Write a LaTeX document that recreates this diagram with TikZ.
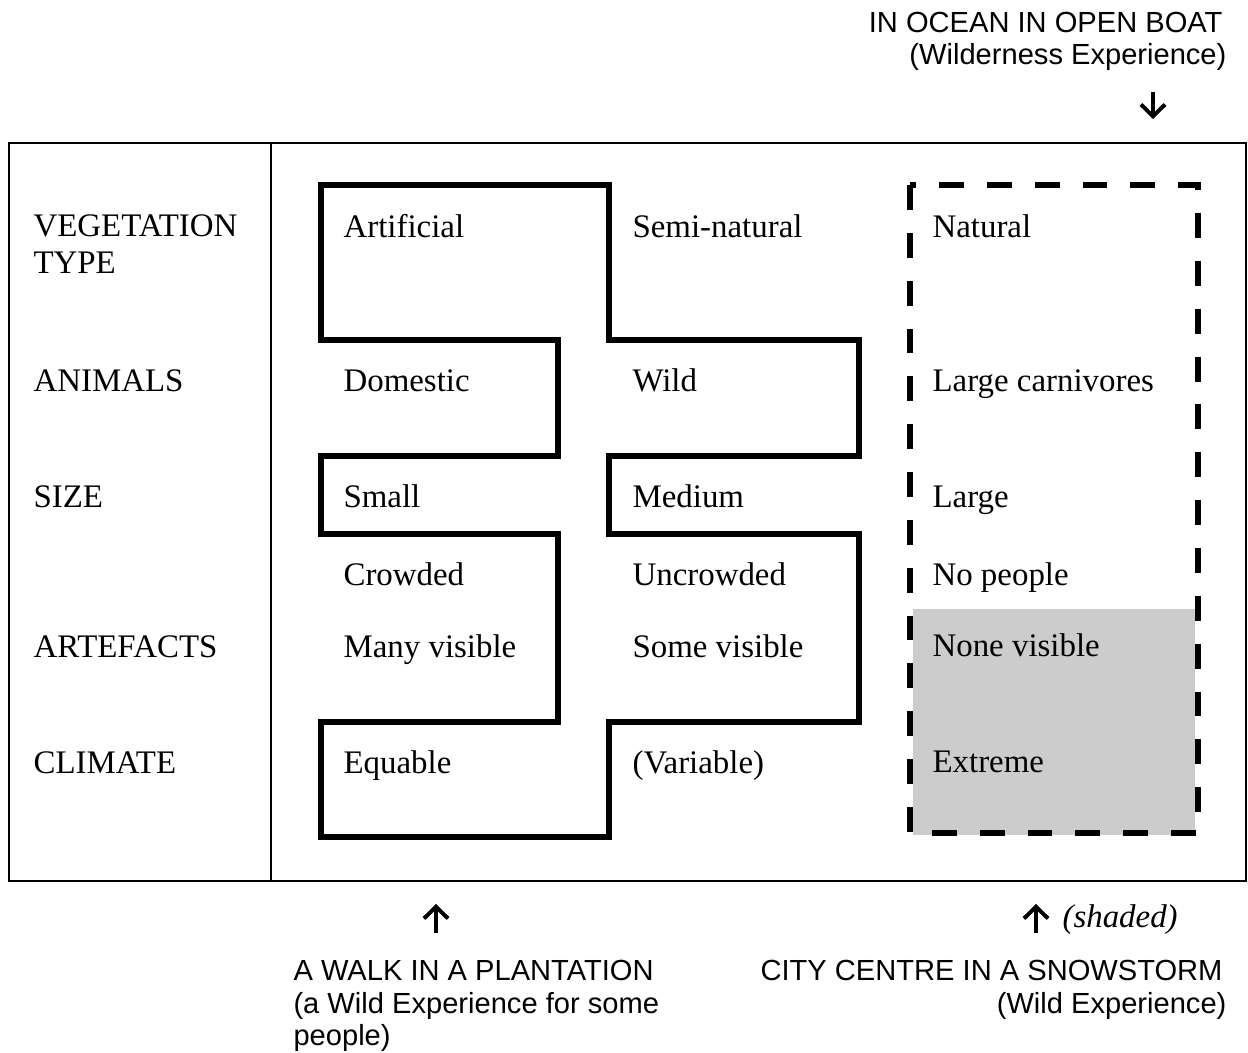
\documentclass[tikz,border=0pt]{standalone}
\usepackage{fontspec}
\setmainfont{Liberation Serif}
\newfontfamily\arialfont{Liberation Sans}
\usetikzlibrary{arrows.meta}
\begin{document}
\begin{tikzpicture}[x=0.3574pt,y=-0.3574pt,
  lab/.style={anchor=base west,inner sep=0pt,font=\fontsize{11.76}{14}\selectfont},
  notew/.style={anchor=base west,inner sep=0pt,font=\arialfont\fontsize{10.4}{11.1}\selectfont},
  notee/.style={anchor=base east,inner sep=0pt,font=\arialfont\fontsize{10.4}{11.1}\selectfont},
  frameline/.style={line width=0.75pt},
  outline/.style={line width=2.1pt,line join=miter},
  dashbox/.style={line width=2.3pt,dash pattern=on 8.9pt off 8.2pt},
  shade/.style={fill=black!20,draw=none},
  pointer/.style={line width=1.4pt,-{Straight Barb[length=4.2pt,width=8.6pt,line width=1.4pt]}}
]
\useasboundingbox (0,0) rectangle (1248,1053);

% outer frame
\draw[frameline] (9,143) rectangle (1246,881);
\draw[frameline] (271,143) -- (271,881);

% shaded cells
\fill[shade] (913,609) rectangle (1195,835);

% cross-shaped outline
\draw[outline] (321,185) -- (609,185) -- (609,340) -- (859,340) -- (859,456)
  -- (609,456) -- (609,534) -- (859,534) -- (859,722) -- (609,722) -- (609,837)
  -- (321,837) -- (321,722) -- (558,722) -- (558,534) -- (321,534) -- (321,456)
  -- (558,456) -- (558,340) -- (321,340) -- cycle;

% dashed rectangle
\draw[dashbox] (910,185) rectangle (1198,833);

% row labels
\node[lab] (veg) at (33,237) {VEGETATION};
\node[lab] (type) at (33,274) {TYPE};
\node[lab] (anim) at (33,392) {ANIMALS};
\node[lab] (size) at (33,508) {SIZE};
\node[lab] (arte) at (33,658) {ARTEFACTS};
\node[lab] (clim) at (33,774) {CLIMATE};

% column 1
\node[lab] (a1) at (343,238) {Artificial};
\node[lab] (a2) at (343,392) {Domestic};
\node[lab] (a3) at (343,508) {Small};
\node[lab] (a4) at (343,586) {Crowded};
\node[lab] (a5) at (343,658) {Many visible};
\node[lab] (a6) at (343,774) {Equable};

% column 2
\node[lab] (b1) at (632,238) {Semi-natural};
\node[lab] (b2) at (632,392) {Wild};
\node[lab] (b3) at (632,508) {Medium};
\node[lab] (b4) at (632,586) {Uncrowded};
\node[lab] (b5) at (632,658) {Some visible};
\node[lab] (b6) at (632,774) {(Variable)};

% column 3
\node[lab] (c1) at (932,238) {Natural};
\node[lab] (c2) at (932,392) {Large carnivores};
\node[lab] (c3) at (932,508) {Large};
\node[lab] (c4) at (932,586) {No people};
\node[lab] (c5) at (932,657) {None visible};
\node[lab] (c6) at (932,773) {Extreme};

% top note
\node[notee] (ocean1) at (1223,33) {IN OCEAN IN OPEN BOAT};
\node[notee] (ocean2) at (1227,65) {(Wilderness Experience)};
\coordinate (oceanA) at (1153,92);
\coordinate (oceanB) at (1153,119);
\draw[pointer] (oceanA) -- (oceanB);

% bottom left note
\coordinate (walkA) at (436,933);
\coordinate (walkB) at (436,904);
\draw[pointer] (walkA) -- (walkB);
\node[notew] (walk1) at (293,981) {A WALK IN A PLANTATION};
\node[notew] (walk2) at (293,1014) {(a Wild Experience for some};
\node[notew] (walk3) at (293,1046) {people)};

% bottom right note
\coordinate (cityA) at (1036,933);
\coordinate (cityB) at (1036,904);
\draw[pointer] (cityA) -- (cityB);
\node[lab,font=\itshape\fontsize{11.76}{14}\selectfont] (shaded) at (1062,928) {(shaded)};
\node[notee] (city1) at (1223,981) {CITY CENTRE IN A SNOWSTORM};
\node[notee] (city2) at (1227,1014) {(Wild Experience)};
\end{tikzpicture}
\end{document}
